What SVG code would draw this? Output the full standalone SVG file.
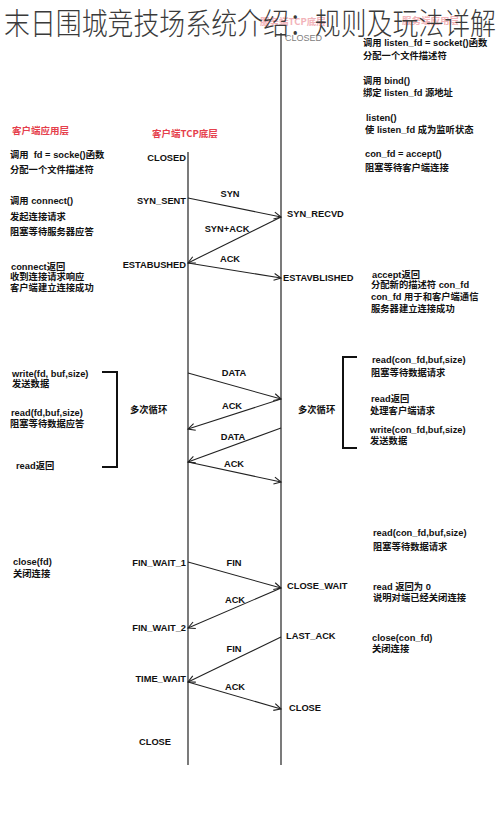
<svg xmlns="http://www.w3.org/2000/svg" width="500" height="825" viewBox="0 0 500 825">
<defs>
<style>
.t{font-family:"Liberation Sans","Noto Sans CJK SC",sans-serif;font-size:9.3px;font-weight:bold;fill:#111}
.s{font-family:"Liberation Sans","Noto Sans CJK SC",sans-serif;font-size:9.3px;font-weight:bold;fill:#111}
.e{text-anchor:end}
.m{text-anchor:middle}
.red{font-family:"Noto Sans CJK SC",sans-serif;font-size:9.5px;font-weight:bold;fill:#e5404c}
.faint{font-family:"Noto Sans CJK SC",sans-serif;font-size:9.5px;font-weight:bold;fill:#f2b3b9}
.life{stroke:#333;stroke-width:1.3;fill:none}
.msg{stroke:#222;stroke-width:1.1;fill:none;marker-end:url(#arr)}
.br{stroke:#111;stroke-width:2;fill:none}
</style>
<marker id="arr" markerUnits="userSpaceOnUse" markerWidth="12" markerHeight="12" viewBox="-10 -6 12 12" refX="0" refY="0" orient="auto">
<path d="M-7,-3.5 L0,0 L-7,3.5" fill="none" stroke="#222" stroke-width="1.1"/>
</marker>
</defs>
<rect width="500" height="825" fill="#fff"/>

<g id="faint-headers">
<text class="faint" x="260" y="25">服务端TCP底层</text>
<text class="faint" x="402" y="24">服务端应用层</text>
</g>
<g id="title">
<text x="250" y="34" text-anchor="middle" textLength="492" lengthAdjust="spacingAndGlyphs" font-family="Noto Sans CJK SC, sans-serif" font-size="30" font-weight="300" fill="#3a3a3a">末日围城竞技场系统介绍：规则及玩法详解</text>
</g>

<g id="lifelines">
<line class="life" x1="188" y1="152" x2="188" y2="765"/>
<line class="life" x1="281" y1="33" x2="281" y2="765"/>
</g>

<g id="connectors">
<line class="msg" x1="188" y1="198" x2="281" y2="217"/>
<line class="msg" x1="281" y1="217" x2="188" y2="263"/>
<line class="msg" x1="188" y1="263" x2="281" y2="278"/>
<line class="msg" x1="188" y1="373" x2="281" y2="399"/>
<line class="msg" x1="281" y1="399" x2="188" y2="429"/>
<line class="msg" x1="281" y1="428" x2="188" y2="462"/>
<line class="msg" x1="188" y1="462" x2="281" y2="482"/>
<line class="msg" x1="188" y1="562" x2="281" y2="588"/>
<line class="msg" x1="281" y1="588" x2="188" y2="628"/>
<line class="msg" x1="281" y1="637" x2="188" y2="682"/>
<line class="msg" x1="188" y1="682" x2="281" y2="709"/>
</g>

<g id="connector-labels">
<text class="s m" x="230" y="197">SYN</text>
<text class="s m" x="227" y="232">SYN+ACK</text>
<text class="s m" x="230" y="262">ACK</text>
<text class="s m" x="234" y="376">DATA</text>
<text class="s m" x="232" y="409">ACK</text>
<text class="s m" x="233" y="440">DATA</text>
<text class="s m" x="234" y="467">ACK</text>
<text class="s m" x="234" y="566">FIN</text>
<text class="s m" x="235" y="603">ACK</text>
<text class="s m" x="234" y="652">FIN</text>
<text class="s m" x="235" y="690">ACK</text>
</g>

<g id="client-states">
<text class="s e" x="186" y="161">CLOSED</text>
<text class="s e" x="186" y="204">SYN_SENT</text>
<text class="s e" x="186" y="268">ESTABUSHED</text>
<text class="s e" x="186" y="566">FIN_WAIT_1</text>
<text class="s e" x="186" y="631">FIN_WAIT_2</text>
<text class="s e" x="186" y="682">TIME_WAIT</text>
<text class="s" x="139" y="745">CLOSE</text>
</g>

<g id="server-states">
<text x="285" y="41" font-family="Liberation Sans, sans-serif" font-size="9" fill="#808080">CLOSED</text>
<text class="s" x="287" y="217">SYN_RECVD</text>
<text class="s" x="283" y="281">ESTAVBLISHED</text>
<text class="s" x="287" y="589">CLOSE_WAIT</text>
<text class="s" x="286" y="639">LAST_ACK</text>
<text class="s" x="289" y="711">CLOSE</text>
</g>

<g id="client-app">
<text class="red" x="12" y="134">客户端应用层</text>
<text class="red" x="152" y="137">客户端TCP底层</text>
<text class="t" x="10" y="158">调用 &#160;fd = socke()函数</text>
<text class="t" x="10" y="173">分配一个文件描述符</text>
<text class="t" x="10" y="204">调用 connect()</text>
<text class="t" x="10" y="220">发起连接请求</text>
<text class="t" x="10" y="235">阻塞等待服务器应答</text>
<text class="t" x="11" y="270">connect返回</text>
<text class="t" x="10" y="280">收到连接请求响应</text>
<text class="t" x="10" y="291">客户端建立连接成功</text>
<text class="t" x="12" y="377">write(fd, buf,size)</text>
<text class="t" x="12" y="387">发送数据</text>
<text class="t" x="11" y="416">read(fd,buf,size)</text>
<text class="t" x="10" y="427">阻塞等待数据应答</text>
<text class="t" x="16" y="469">read返回</text>
<text class="t" x="130" y="413">多次循环</text>
<text class="t" x="13" y="565">close(fd)</text>
<text class="t" x="13" y="577">关闭连接</text>
</g>
<g id="client-loop">
<polyline class="br" points="102,372 117,372 117,467 102,467"/>
</g>

<g id="server-app">
<text class="t" x="363" y="46">调用 listen_fd = socket()函数</text>
<text class="t" x="363" y="59">分配一个文件描述符</text>
<text class="t" x="363" y="84">调用 bind()</text>
<text class="t" x="363" y="96">绑定 listen_fd 源地址</text>
<text class="t" x="366" y="121">listen()</text>
<text class="t" x="365" y="133">使 listen_fd 成为监听状态</text>
<text class="t" x="365" y="157">con_fd = accept()</text>
<text class="t" x="365" y="171">阻塞等待客户端连接</text>
<text class="t" x="372" y="278">accept返回</text>
<text class="t" x="371" y="288">分配新的描述符 con_fd</text>
<text class="t" x="371" y="300">con_fd 用于和客户端通信</text>
<text class="t" x="371" y="312">服务器建立连接成功</text>
<text class="t" x="372" y="363">read(con_fd,buf,size)</text>
<text class="t" x="371" y="376">阻塞等待数据请求</text>
<text class="t" x="371" y="402">read返回</text>
<text class="t" x="370" y="414">处理客户端请求</text>
<text class="t" x="370" y="433">write(con_fd,buf,size)</text>
<text class="t" x="370" y="444">发送数据</text>
<text class="t" x="298" y="413">多次循环</text>
<text class="t" x="373" y="536">read(con_fd,buf,size)</text>
<text class="t" x="373" y="550">阻塞等待数据请求</text>
<text class="t" x="373" y="590">read 返回为 0</text>
<text class="t" x="373" y="601">说明对端已经关闭连接</text>
<text class="t" x="372" y="641">close(con_fd)</text>
<text class="t" x="372" y="652">关闭连接</text>
</g>
<g id="server-loop">
<polyline class="br" points="357,357 343,357 343,448 357,448"/>
</g>
</svg>
